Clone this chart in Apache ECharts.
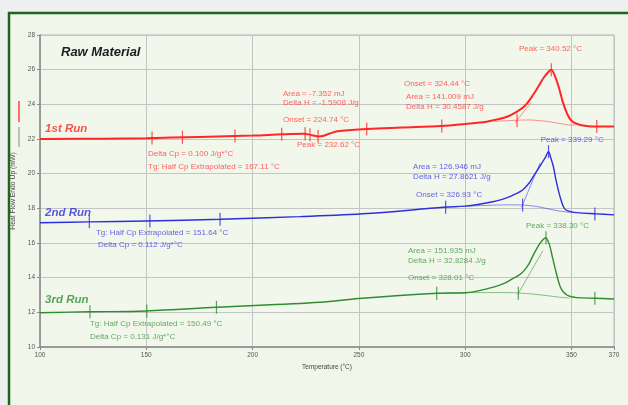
<!DOCTYPE html>
<html><head><meta charset="utf-8">
<script src="https://cdn.jsdelivr.net/npm/echarts@6/dist/echarts.min.js"></script>
<style>html,body{margin:0;padding:0;background:#efefef;}#c{width:628px;height:405px;}</style>
</head><body><div id="c"></div>
<script>
// ---------- data ----------
const xTicks = [100, 150, 200, 250, 300, 350, 370];
const yTicks = [10, 12, 14, 16, 18, 20, 22, 24, 26, 28];

const run1Temp = [100,130,150,175,200,214,224,228,231,233,236,240,254,270,289,300,310,316,320,324,328,332,335,337,339,340.5,342,344,346,348,350,353,357,362,370];
const run1Flow = [22.0,22.02,22.05,22.12,22.2,22.27,22.3,22.22,22.15,22.17,22.3,22.45,22.58,22.66,22.75,22.87,23.0,23.15,23.3,23.55,23.9,24.55,25.15,25.55,25.85,26.0,25.7,25.0,24.1,23.45,23.05,22.85,22.75,22.72,22.72];
const run1BaseTemp = [314,324,330,336,342,348,352];
const run1BaseFlow = [23.02,23.08,23.1,23.05,22.95,22.82,22.8];
const run1TanTemp = [323.5,331];
const run1TanFlow = [22.95,24.1];
const run1MarkTemp = [152.7,167,191.7,213.7,224.7,227,230.8,253.7,289,324.4,340.5,361.9];
const run1MarkFlow = [22.06,22.1,22.17,22.27,22.3,22.25,22.15,22.58,22.75,23.06,26.0,22.72];

const run2Temp = [100,123,150,185,222,254,290,300,306,313,317,321,324,327,330,332,334,336,337.8,339.2,340.3,341.5,342.6,343.8,345.3,347,350,352.5,362,370];
const run2Flow = [17.17,17.22,17.27,17.37,17.52,17.7,18.06,18.13,18.22,18.38,18.5,18.68,18.85,19.06,19.45,19.83,20.2,20.6,20.95,21.27,20.9,20.4,19.7,19.06,18.4,17.94,17.8,17.75,17.68,17.62];
const run2BaseTemp = [300,310,320,327,333,338,343,347,352];
const run2BaseFlow = [18.13,18.17,18.2,18.19,18.12,18.0,17.87,17.8,17.75];
const run2TanTemp = [326.5,335.2];
const run2TanFlow = [18.05,20.62];
const run2MarkTemp = [123.2,151.7,184.7,290.8,327,339.2,361];
const run2MarkFlow = [17.22,17.27,17.37,18.06,18.19,21.27,17.68];

const run3Temp = [100,123,150,183,232,250,287,300,313,318,322.6,325,327.3,330,332,334,335.2,336.8,337.9,339,339.9,341,342.3,343.5,344.7,346,347.8,350,352.5,361,370];
const run3Flow = [11.98,12.03,12.08,12.29,12.58,12.8,13.1,13.13,13.44,13.65,13.96,14.12,14.35,14.8,15.3,15.75,15.98,16.22,16.3,16.1,15.79,15.2,14.54,13.95,13.48,13.2,13.0,12.9,12.85,12.81,12.77];
const run3BaseTemp = [290,300,310,318,325,332,338,344,349];
const run3BaseFlow = [13.1,13.13,13.14,13.14,13.12,13.05,12.97,12.88,12.82];
const run3TanTemp = [324.6,336.5];
const run3TanFlow = [13.0,15.55];
const run3MarkTemp = [123.5,150.2,183,286.6,325,338,361];
const run3MarkFlow = [12.03,12.08,12.29,13.1,13.1,16.3,12.81];

// annotation texts: [text, temperature anchor, heat-flow anchor, run]
const notes = [
  ['Area = -7.352 mJ', 214.3, 24.6, 0],
  ['Delta H = -1.5908 J/g', 214.3, 24.06, 0],
  ['Onset = 224.74 °C', 214.3, 23.1, 0],
  ['Peak = 232.62 °C', 220.9, 21.65, 0],
  ['Delta Cp = 0.100 J/g*°C', 150.8, 21.13, 0],
  ['Tg: Half Cp Extrapolated = 167.11 °C', 150.8, 20.4, 0],
  ['Onset = 324.44 °C', 271.2, 25.17, 0],
  ['Area = 141.009 mJ', 272.2, 24.42, 0],
  ['Delta H = 30.4587 J/g', 272.2, 23.83, 0],
  ['Peak = 340.52 °C', 325.3, 27.18, 0],
  ['Tg: Half Cp Extrapolated = 151.64 °C', 126.3, 16.56, 1],
  ['Delta Cp = 0.112 J/g*°C', 127.3, 15.88, 1],
  ['Area = 126.946 mJ', 275.5, 20.4, 1],
  ['Delta H = 27.8621 J/g', 275.5, 19.83, 1],
  ['Onset = 326.93 °C', 276.9, 18.77, 1],
  ['Peak = 339.29 °C', 335.5, 21.98, 1],
  ['Tg: Half Cp Extrapolated = 150.49 °C', 123.5, 11.33, 2],
  ['Delta Cp = 0.131 J/g*°C', 123.5, 10.56, 2],
  ['Area = 151.935 mJ', 273.1, 15.54, 2],
  ['Delta H = 32.8284 J/g', 273.1, 14.98, 2],
  ['Onset = 328.01 °C', 273.1, 14.02, 2],
  ['Peak = 338.30 °C', 328.6, 16.98, 2]
];
const runNames = ['1st Run', '2nd Run', '3rd Run'];
const runLabelAnchor = [[102.4, 22.58], [102.4, 17.75], [102.4, 12.75]];

// ---------- styling ----------
const lineColors = ['#ff2626', '#2d2de0', '#2f8c2f'];
const textColors = ['#ff3b3b', '#3b3be0', '#3d943d'];
const baseColors = ['rgba(255,60,60,0.55)', 'rgba(50,50,225,0.55)', 'rgba(50,140,50,0.55)'];
const lineWidths = [2, 1.4, 1.4];
const FONT = 'Liberation Sans, Arial, sans-serif';

const zip = (a, b) => a.map((t, i) => [t, b[i]]);
const runs = [
  {t: run1Temp, f: run1Flow, bt: run1BaseTemp, bf: run1BaseFlow, tt: run1TanTemp, tf: run1TanFlow, mt: run1MarkTemp, mf: run1MarkFlow},
  {t: run2Temp, f: run2Flow, bt: run2BaseTemp, bf: run2BaseFlow, tt: run2TanTemp, tf: run2TanFlow, mt: run2MarkTemp, mf: run2MarkFlow},
  {t: run3Temp, f: run3Flow, bt: run3BaseTemp, bf: run3BaseFlow, tt: run3TanTemp, tf: run3TanFlow, mt: run3MarkTemp, mf: run3MarkFlow}
];

const series = [];
runs.forEach((r, i) => {
  series.push({type: 'line', data: zip(r.bt, r.bf), symbol: 'none', smooth: 0.3, lineStyle: {color: baseColors[i], width: 1}, z: 2});
  series.push({type: 'line', data: zip(r.tt, r.tf), symbol: 'none', lineStyle: {color: baseColors[i], width: 1}, z: 2});
  series.push({type: 'line', data: zip(r.t, r.f), symbol: 'none', smooth: 0.35, lineStyle: {color: lineColors[i], width: lineWidths[i]}, z: 3});
  series.push({type: 'scatter', data: zip(r.mt, r.mf), symbol: 'rect', symbolSize: [1.2, 13], itemStyle: {color: lineColors[i]}, z: 4});
});
series.push({
  type: 'scatter', symbolSize: 0, z: 5,
  data: notes.map(n => ({
    value: [n[1], n[2]],
    label: {show: true, formatter: n[0], position: 'right', distance: 0, align: 'left', verticalAlign: 'middle',
            fontSize: 8, color: textColors[n[3]], fontFamily: FONT}
  })).concat(runNames.map((nm, i) => ({
    value: runLabelAnchor[i],
    label: {show: true, formatter: nm, position: 'right', distance: 0, align: 'left', verticalAlign: 'middle',
            fontSize: 11.5, fontWeight: 'bold', fontStyle: 'italic', color: lineColors[i], fontFamily: FONT}
  })))
});

const chart = echarts.init(document.getElementById('c'), null, {renderer: 'canvas'});
chart.setOption({
  animation: false,
  backgroundColor: '#efefef',
  title: {text: 'Raw Material', left: 56, top: 41,
          textStyle: {fontSize: 13, fontWeight: 'bold', fontStyle: 'italic', color: '#1e1e1e', fontFamily: FONT}},
  graphic: [
    {type: 'rect', z: -10, shape: {x: 9, y: 13, width: 640, height: 420},
     style: {fill: '#f1f6ea', stroke: '#1d661d', lineWidth: 2.5}},
    {type: 'line', shape: {x1: 19, y1: 101, x2: 19, y2: 122}, style: {stroke: '#ff6f6f', lineWidth: 2}},
    {type: 'line', shape: {x1: 19, y1: 127, x2: 19, y2: 147}, style: {stroke: '#8a8a8a', lineWidth: 1}}
  ],
  grid: {left: 40, right: 14, top: 35, bottom: 58, show: true, backgroundColor: '#f2f7eb', borderColor: '#b8b8b8', borderWidth: 1},
  xAxis: {
    type: 'value', min: xTicks[0], max: xTicks[xTicks.length - 1], interval: 50,
    name: 'Temperature (°C)', nameLocation: 'middle', nameGap: 14,
    nameTextStyle: {fontSize: 6.5, color: '#444', fontFamily: FONT},
    axisLine: {lineStyle: {color: '#8a8a8a', width: 1.5}},
    axisTick: {show: true, length: 3, lineStyle: {color: '#8a8a8a'}},
    axisLabel: {fontSize: 6.5, color: '#555', margin: 5, fontFamily: FONT, showMaxLabel: true},
    splitLine: {show: true, lineStyle: {color: '#c4c4c4', width: 1}}
  },
  yAxis: {
    type: 'value', min: yTicks[0], max: yTicks[yTicks.length - 1], interval: 2,
    name: 'Heat Flow Endo Up (mW)', nameLocation: 'middle', nameGap: 18, nameRotate: 90,
    nameTextStyle: {fontSize: 6.8, color: '#444', fontFamily: FONT},
    axisLine: {show: true, lineStyle: {color: '#8a8a8a', width: 1.5}},
    axisTick: {show: true, length: 3, lineStyle: {color: '#8a8a8a'}},
    axisLabel: {fontSize: 6.5, color: '#555', margin: 5, fontFamily: FONT},
    splitLine: {show: true, lineStyle: {color: '#c4c4c4', width: 1}}
  },
  series: series
});
</script></body></html>
